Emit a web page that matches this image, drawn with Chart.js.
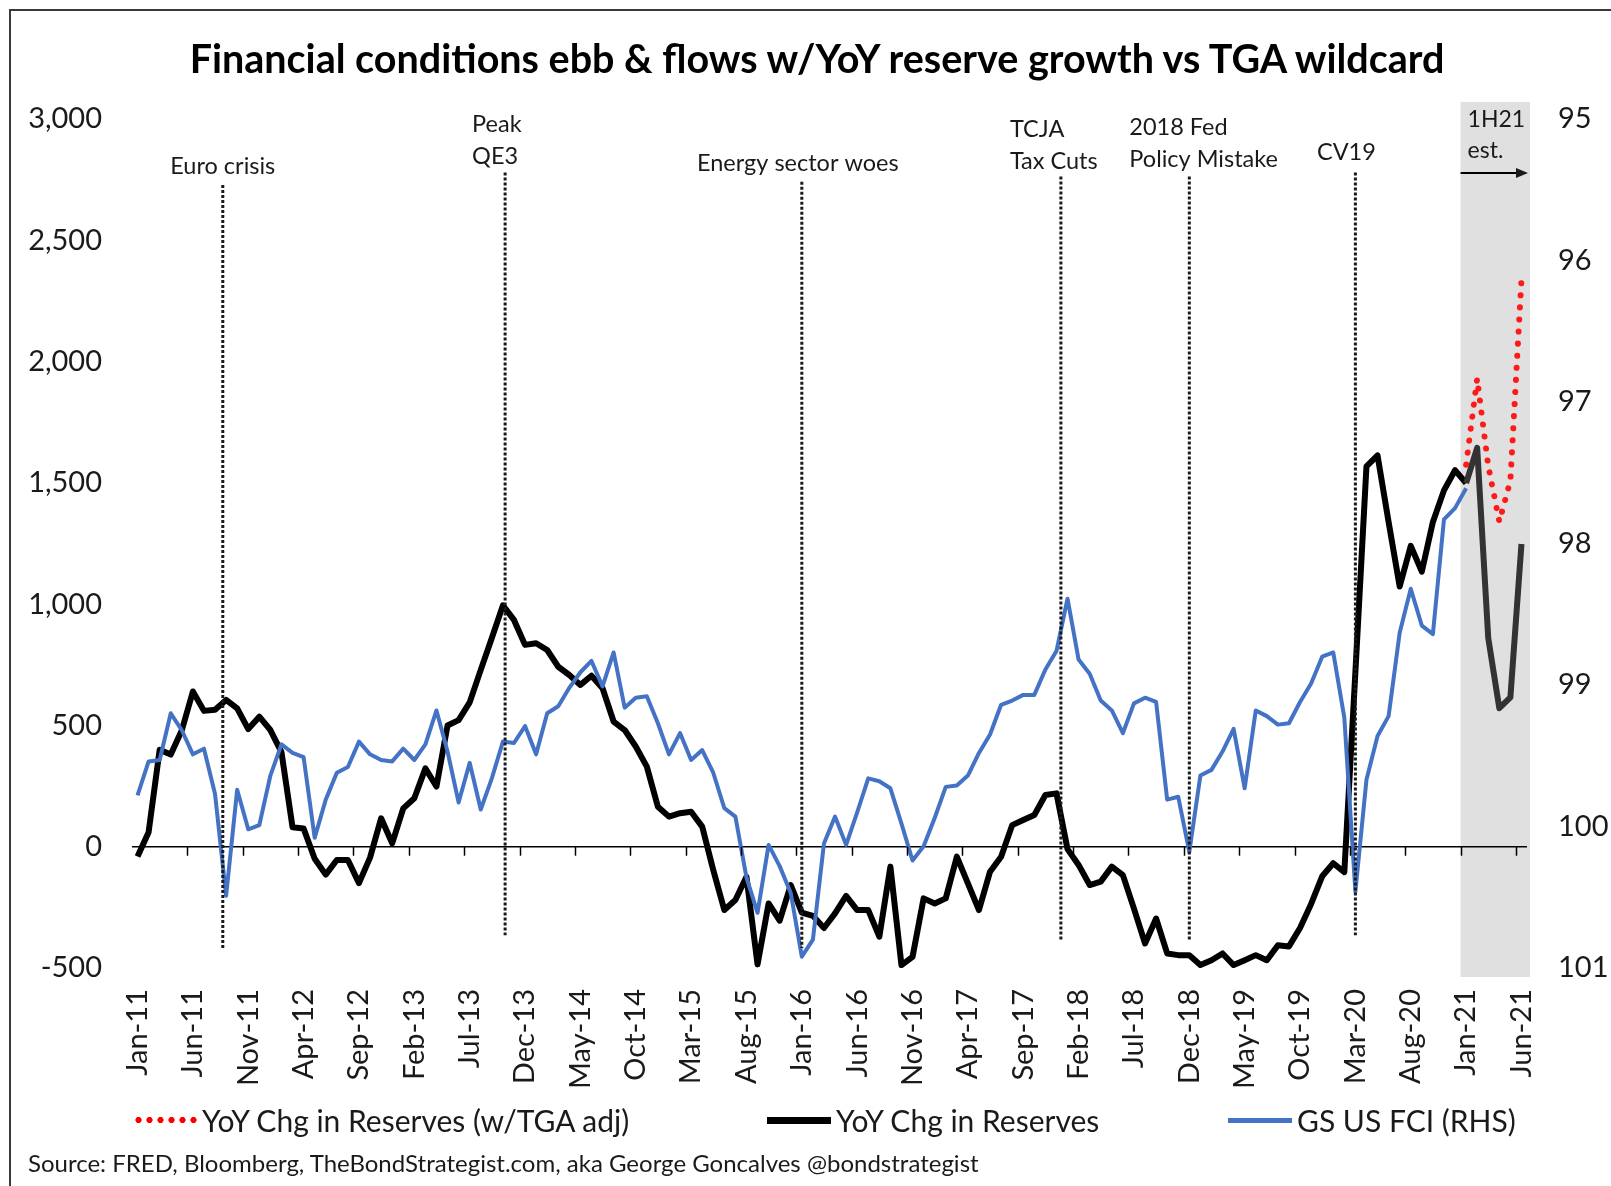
<!DOCTYPE html>
<html>
<head>
<meta charset="utf-8">
<script src="https://cdn.jsdelivr.net/npm/chart.js@4.4.0/dist/chart.umd.min.js"></script>
<style>
  body { margin: 0; background: #fff; font-family: Lato, "Open Sans", sans-serif; }
  #wrap { position: relative; width: 1611px; height: 1186px; overflow: hidden; background: #fff; }
  #frame { position: absolute; left: 9px; top: 9px; width: 1700px; height: 1300px;
           border-left: 2px solid #3a3a3a; border-top: 2px solid #3a3a3a; pointer-events: none; }
  #title { position: absolute; left: 0; top: 35px; width: 1634px; text-align: center;
           font-weight: 700; font-size: 39.5px; line-height: 46px; color: #000; white-space: nowrap; }
  .leg { position: absolute; top: 1100px; height: 40px; display: flex; align-items: center;
         font-size: 30px; color: #1a1a1a; white-space: nowrap; }
  .leg .sw { display: inline-block; width: 64px; margin-right: 5px; }
  #source { position: absolute; left: 28px; top: 1149px; font-size: 24px; line-height: 28px; color: #1a1a1a; white-space: nowrap; }
</style>
</head>
<body>
<div id="wrap">
  <canvas id="chart" width="1611" height="1186"></canvas>
  <div id="frame"></div>
  <div id="title">Financial conditions ebb &amp; flows w/YoY reserve growth vs TGA wildcard</div>
  <div class="leg" style="left:133px"><span class="sw" style="height:10px;background:radial-gradient(circle, #ff0000 2.8px, transparent 3.4px) repeat-x;background-size:11px 10px"></span>YoY Chg in Reserves (w/TGA adj)</div>
  <div class="leg" style="left:767px"><span class="sw" style="height:7px;background:#000"></span>YoY Chg in Reserves</div>
  <div class="leg" style="left:1228px"><span class="sw" style="height:5px;background:#4472c4"></span>GS US FCI (RHS)</div>
  <div id="source">Source: FRED, Bloomberg, TheBondStrategist.com, aka George Goncalves @bondstrategist</div>
</div>
<script>
// Months Jan-11 .. Jun-21
const monthNames = ['Jan', 'Feb', 'Mar', 'Apr', 'May', 'Jun', 'Jul', 'Aug', 'Sep', 'Oct', 'Nov', 'Dec'];
const startYear = 2011;
const monthCount = 126;
const months = [];
for (let i = 0; i < monthCount; i++) {
    months.push(monthNames[i % 12] + '-' + String((startYear + Math.floor(i / 12)) % 100));
}

// YoY change in reserves ($bn, left axis)
const reserves = [
    -40, 60, 400, 380, 480, 640, 560, 565, 605, 570,
    485, 536, 481, 390, 80, 75, -50, -115, -55, -55,
    -150, -45, 117, 14, 158, 200, 323, 248, 500, 522,
    595, 729, 860, 995, 935, 832, 839, 811, 742, 708,
    667, 705, 653, 516, 481, 413, 330, 165, 124, 138,
    144, 83, -96, -261, -220, -124, -485, -234, -305, -158,
    -272, -285, -335, -275, -203, -261, -261, -371, -82, -488,
    -454, -213, -234, -213, -41, -151, -261, -103, -41, 89,
    110, 131, 213, 220, -10, -75, -158, -144, -82, -117,
    -255, -399, -296, -440, -447, -447, -488, -468, -440, -488,
    -468, -447, -468, -406, -411, -335, -236, -122, -68, -105,
    720, 1568, 1613, 1339, 1073, 1240, 1134, 1339, 1469, 1552,
    1499, 1644, 860, 571, 616, 1248
];

// YoY change in reserves with TGA adjustment (1H21 estimate)
const tgaStart = 'Jan-21';
const reservesTga = [1575, 1930, 1570, 1340, 1510, 2340];

// GS US financial conditions index (right axis, inverted), Jan-11 .. Jan-21
const fci = [
    99.78, 99.54, 99.53, 99.20, 99.32, 99.49, 99.45, 99.77, 100.49, 99.74,
    100.02, 99.99, 99.64, 99.42, 99.48, 99.51, 100.08, 99.81, 99.62, 99.58,
    99.40, 99.49, 99.53, 99.54, 99.45, 99.53, 99.42, 99.18, 99.47, 99.83,
    99.55, 99.88, 99.66, 99.40, 99.41, 99.29, 99.49, 99.20, 99.15, 99.02,
    98.91, 98.83, 99.01, 98.77, 99.16, 99.09, 99.08, 99.27, 99.49, 99.34,
    99.53, 99.46, 99.62, 99.87, 99.93, 100.36, 100.61, 100.13, 100.28, 100.47,
    100.92, 100.80, 100.12, 99.93, 100.13, 99.90, 99.66, 99.68, 99.73, 99.98,
    100.24, 100.14, 99.94, 99.72, 99.71, 99.64, 99.48, 99.35, 99.14, 99.11,
    99.07, 99.07, 98.89, 98.76, 98.39, 98.82, 98.92, 99.11, 99.18, 99.34,
    99.13, 99.09, 99.12, 99.81, 99.79, 100.18, 99.64, 99.60, 99.47, 99.31,
    99.73, 99.18, 99.22, 99.28, 99.27, 99.12, 98.99, 98.80, 98.77, 99.23,
    100.46, 99.67, 99.36, 99.22, 98.63, 98.32, 98.58, 98.64, 97.83, 97.75,
    97.61
];

// Event markers: position in months (index), extent in left-axis units
const eventNames = [['Euro crisis'], ['Peak', 'QE3'], ['Energy sector woes'], ['TCJA', 'Tax Cuts'], ['2018 Fed', 'Policy Mistake'], ['CV19']];
const eventAt = [7.7, 33.2, 60, 83.4, 95, 110];
const eventTop = [2728, 2779, 2741, 2763, 2763, 2779];
const eventBottom = [-426, -365, -418, -384, -391, -365];

// Shaded estimate window
const shadeFrom = 'Jan-21';
const shadeText = ['1H21', 'est.'];

// text layout for the event labels (pixel offsets / rows)
const eventTextLayout = [
    { align: 'center', dx: 0, rows: [166] },
    { align: 'left', dx: -33, rows: [124, 156] },
    { align: 'center', dx: -4, rows: [163] },
    { align: 'left', dx: -51, rows: [129, 161] },
    { align: 'left', dx: -60, rows: [127, 159] },
    { align: 'center', dx: -9, rows: [152] }
];

const tgaIdx = months.indexOf(tgaStart);
const tgaData = months.map((_, i) => (i >= tgaIdx ? reservesTga[i - tgaIdx] : null));
const shadeIdx = months.indexOf(shadeFrom);

const overlay = {
    id: 'overlay',
    beforeDraw(chart) {
        const { ctx, scales: { x, y } } = chart;
        const left = x.getPixelForValue(shadeIdx - 0.5);
        const top = y.getPixelForValue(3000) - 17;
        const bottom = y.getPixelForValue(-500) + 9;
        ctx.save();
        ctx.fillStyle = '#e0e0e0';
        ctx.fillRect(left, top, x.right + 3 - left, bottom - top);
        ctx.restore();
    },
    afterDatasetsDraw(chart) {
        const { ctx, scales: { x, y } } = chart;
        ctx.save();
        ctx.strokeStyle = '#1a1a1a';
        ctx.lineWidth = 3;
        ctx.setLineDash([3, 2]);
        eventAt.forEach((m, i) => {
            const px = x.getPixelForValue(m);
            ctx.beginPath();
            ctx.moveTo(px, y.getPixelForValue(eventTop[i]));
            ctx.lineTo(px, y.getPixelForValue(eventBottom[i]));
            ctx.stroke();
        });
        ctx.restore();
    },
    afterDraw(chart) {
        const { ctx, scales: { x, y } } = chart;
        ctx.save();
        // tick marks on the zero line, every 5 months
        const y0 = y.getPixelForValue(0);
        ctx.strokeStyle = '#000';
        ctx.lineWidth = 1.5;
        for (let k = 5; k <= monthCount - 1; k += 5) {
            const px = Math.round(x.getPixelForValue(k - 0.5)) + 0.5;
            ctx.beginPath();
            ctx.moveTo(px, y0);
            ctx.lineTo(px, y0 + 9);
            ctx.stroke();
        }
        // event labels
        ctx.fillStyle = '#1a1a1a';
        ctx.font = '23.5px Lato';
        ctx.textBaseline = 'middle';
        eventNames.forEach((lines, i) => {
            const lay = eventTextLayout[i];
            const px = x.getPixelForValue(eventAt[i]) + lay.dx;
            ctx.textAlign = lay.align;
            lines.forEach((t, j) => ctx.fillText(t, px, lay.rows[j]));
        });
        // 1H21 est. label + arrow
        const left = x.getPixelForValue(shadeIdx - 0.5);
        ctx.textAlign = 'left';
        ctx.font = '23px Lato';
        ctx.fillText(shadeText[0], left + 7, 120);
        ctx.fillText(shadeText[1], left + 7, 151);
        const ay = 173;
        const end = x.right + 1;
        ctx.lineWidth = 2;
        ctx.beginPath();
        ctx.moveTo(left, ay);
        ctx.lineTo(end - 8, ay);
        ctx.stroke();
        ctx.beginPath();
        ctx.moveTo(end, ay);
        ctx.lineTo(end - 12, ay - 5);
        ctx.lineTo(end - 12, ay + 5);
        ctx.closePath();
        ctx.fill();
        ctx.restore();
    }
};

Chart.defaults.font.family = 'Lato, "Open Sans", sans-serif';
Chart.defaults.color = '#1a1a1a';

const ctx = document.getElementById('chart').getContext('2d');
new Chart(ctx, {
    type: 'line',
    data: {
        labels: months,
        datasets: [
            {
                label: 'YoY Chg in Reserves (w/TGA adj)',
                data: tgaData,
                yAxisID: 'y',
                borderColor: '#ff1a1a',
                borderWidth: 6,
                borderDash: [0.1, 12],
                borderCapStyle: 'round',
                pointRadius: 0,
                tension: 0
            },
            {
                label: 'GS US FCI (RHS)',
                data: fci,
                yAxisID: 'y1',
                borderColor: '#4472c4',
                borderWidth: 4,
                borderJoinStyle: 'round',
                pointRadius: 0,
                tension: 0
            },
            {
                label: 'YoY Chg in Reserves',
                data: reserves,
                yAxisID: 'y',
                borderColor: '#000',
                borderWidth: 6,
                borderJoinStyle: 'round',
                pointRadius: 0,
                tension: 0,
                segment: {
                    borderColor: c => (c.p0DataIndex >= shadeIdx ? '#333' : undefined)
                }
            }
        ]
    },
    options: {
        responsive: false,
        animation: false,
        layout: { padding: { left: 0, right: 0, top: 119, bottom: 0 } },
        plugins: {
            legend: { display: false },
            tooltip: { enabled: false },
            title: { display: false }
        },
        scales: {
            x: {
                offset: true,
                grid: { display: false, drawTicks: false },
                border: { display: false },
                ticks: {
                    autoSkip: false,
                    maxRotation: 90,
                    minRotation: 90,
                    padding: 21,
                    font: { size: 29 },
                    color: '#1a1a1a',
                    callback: (v, i) => (i % 5 === 0 ? months[i] : '')
                },
                afterFit: s => { s.height = 218; }
            },
            y: {
                position: 'left',
                min: -500,
                max: 3000,
                ticks: { stepSize: 500, padding: 30, font: { size: 29 }, color: '#1a1a1a' },
                grid: {
                    drawTicks: false,
                    color: c => (c.tick && c.tick.value === 0 ? '#000' : 'rgba(0,0,0,0)'),
                    lineWidth: 1.5
                },
                border: { display: false },
                afterFit: s => { s.width = 132; }
            },
            y1: {
                position: 'right',
                min: 95,
                max: 101,
                reverse: true,
                ticks: { stepSize: 1, padding: 31, font: { size: 29 }, color: '#1a1a1a' },
                grid: { display: false, drawTicks: false },
                border: { display: false },
                afterFit: s => { s.width = 84; }
            }
        }
    },
    plugins: [overlay]
});
</script>
</body>
</html>
